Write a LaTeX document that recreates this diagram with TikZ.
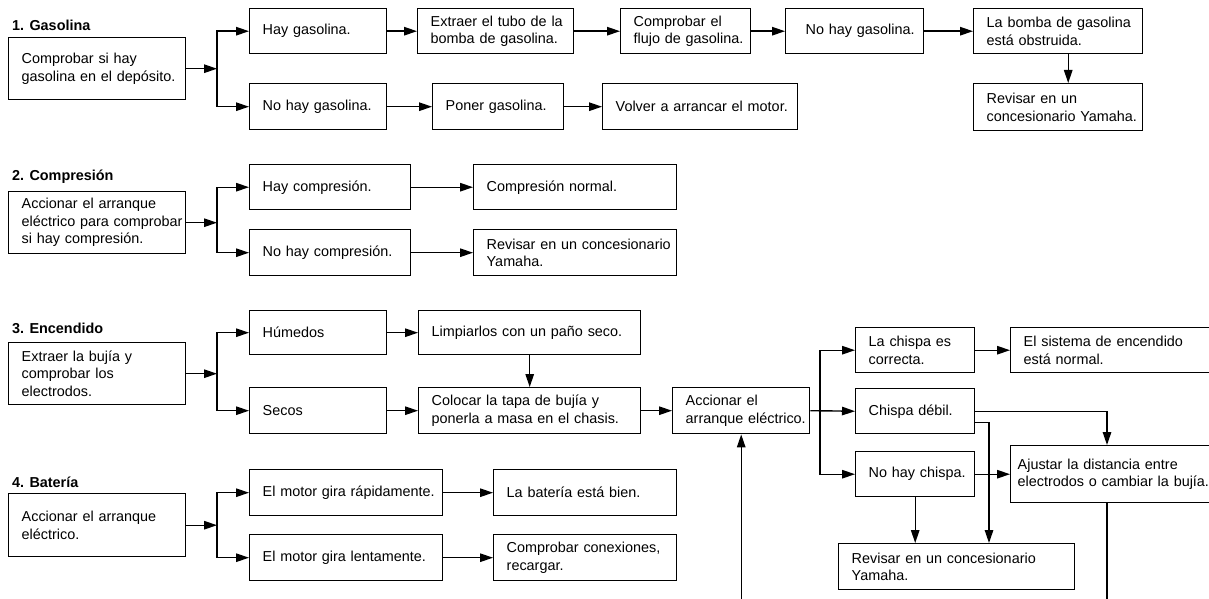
\documentclass[tikz,border=0pt]{standalone}
\usepackage{fontspec}
\setmainfont{Liberation Sans}
\usetikzlibrary{arrows.meta}

\begin{document}
\begin{tikzpicture}[
  x=1pt, y=-1pt,
  font=\fontsize{14.4}{17.5}\selectfont,
  sbox/.style = {draw, line width=1.4pt, anchor=north west, align=left,
                 inner xsep=0pt, inner ysep=0pt,
                 execute at begin node={\leftskip=13pt}},
  ttl/.style  = {anchor=west, inner sep=0pt,
                 font=\fontsize{14.4}{17.5}\selectfont\bfseries},
  arr/.style  = {-{Triangle[length=13pt,width=8.5pt]}, line width=1.4pt},
  bus/.style  = {line width=1.4pt},
]
\useasboundingbox (0,0) rectangle (1209,599);
\clip (0,0) rectangle (1209,599);

% x positions of the branch points
\coordinate (split)  at (217,0);
\coordinate (fork)   at (820,0);
\coordinate (side)   at (989,0);
\coordinate (drop)   at (1107,0);
\coordinate (cutoff) at (0,612);

% 1. Gasolina
\node[ttl] (t1) at (12,25) {1. Gasolina};
\node[sbox, text width=177pt, minimum height=62pt] (a1) at (8,37)
  {Comprobar si hay\\gasolina en el depósito.};
\node[sbox, text width=137pt, minimum height=45pt] (g1) at (249,8) {Hay gasolina.};
\node[sbox, text width=137pt, minimum height=46pt] (g2) at (249,83) {No hay gasolina.};
\node[sbox, text width=156pt, minimum height=45pt] (g3) at (417,8)
  {Extraer el tubo de la\\bomba de gasolina.};
\node[sbox, text width=130pt, minimum height=45pt] (g4) at (620,8)
  {Comprobar el\\flujo de gasolina.};
\node[sbox, text width=138pt, minimum height=45pt,
      execute at begin node={\leftskip=20pt}] (g5) at (785,8) {No hay gasolina.};
\node[sbox, text width=169pt, minimum height=45pt] (g6) at (973,8)
  {La bomba de gasolina\\está obstruida.};
\node[sbox, text width=169pt, minimum height=47pt] (g7) at (973,83)
  {Revisar en un\\concesionario Yamaha.};
\node[sbox, text width=131pt, minimum height=46pt] (g8) at (432,83) {Poner gasolina.};
\node[sbox, text width=195pt, minimum height=46pt] (g9) at (602,83)
  {Volver a arrancar el motor.};

\draw[arr] (a1.east) -- (a1.east -| split);
\draw[arr] (a1.east -| split) |- (g1.west);
\draw[arr] (a1.east -| split) |- (g2.west);
\draw[arr] (g1) -- (g3);
\draw[arr] (g3) -- (g4);
\draw[arr] (g4) -- (g5);
\draw[arr] (g5) -- (g6);
\draw[arr] ([xshift=10pt]g6.south) -- ([xshift=10pt]g7.north);
\draw[arr] (g2) -- (g8);
\draw[arr] (g8) -- (g9);

% 2. Compresión
\node[ttl] (t2) at (12,177) {2. Compresión};
\node[sbox, text width=177pt, minimum height=62pt] (a2) at (8,191)
  {Accionar el arranque\\eléctrico para comprobar\\si hay compresión.};
\node[sbox, text width=161pt, minimum height=45pt] (h1) at (249,164) {Hay compresión.};
\node[sbox, text width=161pt, minimum height=46pt] (h2) at (249,229) {No hay compresión.};
\node[sbox, text width=203pt, minimum height=45pt] (h3) at (473,164) {Compresión normal.};
\node[sbox, text width=203pt, minimum height=46pt] (h4) at (473,229)
  {Revisar en un concesionario\\Yamaha.};

\draw[arr] (a2.east) -- (a2.east -| split);
\draw[arr] (a2.east -| split) |- (h1.west);
\draw[arr] (a2.east -| split) |- (h2.west);
\draw[arr] (h1) -- (h3);
\draw[arr] (h2) -- (h4);

% 3. Encendido
\node[ttl] (t3) at (12,328) {3. Encendido};
\node[sbox, text width=177pt, minimum height=62pt] (a3) at (8,342)
  {Extraer la bujía y\\comprobar los\\electrodos.};
\node[sbox, text width=137pt, minimum height=44pt] (e1) at (249,310) {Húmedos};
\node[sbox, text width=137pt, minimum height=46pt] (e2) at (249,387) {Secos};
\node[sbox, text width=222pt, minimum height=44pt] (e3) at (418,310)
  {Limpiarlos con un paño seco.};
\node[sbox, text width=222pt, minimum height=46pt] (e4) at (418,387)
  {Colocar la tapa de bujía y\\ponerla a masa en el chasis.};
\node[sbox, text width=137pt, minimum height=46pt] (c1) at (672,387)
  {Accionar el\\arranque eléctrico.};
\node[sbox, text width=119pt, minimum height=45pt] (s1) at (855,327)
  {La chispa es\\correcta.};
\node[sbox, text width=119pt, minimum height=45pt] (s2) at (855,388) {Chispa débil.};
\node[sbox, text width=119pt, minimum height=45pt] (s3) at (855,451) {No hay chispa.};
\node[sbox, text width=220pt, minimum height=45pt] (s4) at (1010,327)
  {El sistema de encendido\\está normal.};
\node[sbox, text width=220pt, minimum height=57pt,
      execute at begin node={\leftskip=7pt}] (s5) at (1010,445)
  {Ajustar la distancia entre\\electrodos o cambiar la bujía.};
\node[sbox, text width=236pt, minimum height=46pt] (r3) at (838,543)
  {Revisar en un concesionario\\Yamaha.};

\draw[arr] (a3.east) -- (a3.east -| split);
\draw[arr] (a3.east -| split) |- (e1.west);
\draw[arr] (a3.east -| split) |- (e2.west);
\draw[arr] (e1) -- (e3);
\draw[arr] (e2) -- (e4);
\draw[arr] (e3) -- (e4);
\draw[arr] (e4) -- (c1);
\draw[arr] (c1.east) -- (s2.west);
\draw[arr] (c1.east -| fork) |- (s1.west);
\draw[arr] (c1.east -| fork) |- (s3.west);
\draw[arr] (s1) -- (s4);
\draw[arr] (s2.east) -| (s5.north -| drop);
\draw[arr] ([yshift=-11pt]s2.east) -| (r3.north -| side);
\draw[arr] (s3) -- (s5);
\draw[arr] (s3.south) -- (s3.south |- r3.north);
\draw[bus] (s5.south -| drop) -- (drop |- cutoff);
\draw[arr] (c1.south |- cutoff) -- (c1.south);

% 4. Batería
\node[ttl] (t4) at (12,482) {4. Batería};
\node[sbox, text width=177pt, minimum height=63pt] (a4) at (8,493)
  {Accionar el arranque\\eléctrico.};
\node[sbox, text width=193pt, minimum height=46pt] (m1) at (249,469)
  {El motor gira rápidamente.};
\node[sbox, text width=193pt, minimum height=46pt] (m2) at (249,534)
  {El motor gira lentamente.};
\node[sbox, text width=183pt, minimum height=46pt] (m3) at (493,469)
  {La batería está bien.};
\node[sbox, text width=183pt, minimum height=46pt] (m4) at (493,534)
  {Comprobar conexiones,\\recargar.};

\draw[arr] (a4.east) -- (a4.east -| split);
\draw[arr] (a4.east -| split) |- (m1.west);
\draw[arr] (a4.east -| split) |- (m2.west);
\draw[arr] (m1) -- (m3);
\draw[arr] (m2) -- (m4);

\end{tikzpicture}
\end{document}
